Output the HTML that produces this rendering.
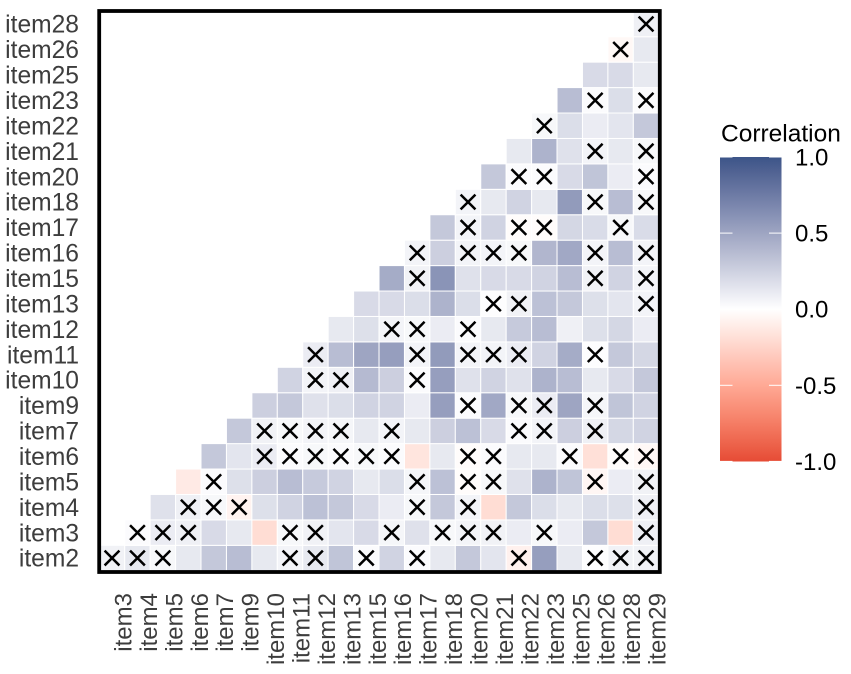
<!DOCTYPE html>
<html lang="en">
<head>
<meta charset="utf-8">
<title>Correlation heatmap</title>
<style>
  html, body { margin: 0; padding: 0; background: #fff; }
  svg { display: block; font-family: "Liberation Sans", Arial, sans-serif; }
</style>
</head>
<body>
<svg id="chart" width="851" height="674" viewBox="0 0 851 674" xmlns="http://www.w3.org/2000/svg">
  <defs>
    <linearGradient id="legend-gradient" x1="0" y1="0" x2="0" y2="1"></linearGradient>
  </defs>
  <rect x="0" y="0" width="851" height="674" fill="#ffffff"></rect>
  <g id="tiles"></g>
  <g id="crosses"></g>
  <rect x="99.2" y="11" width="560.6" height="561" fill="none" stroke="#000000" stroke-width="3.8"></rect>
  <g id="y-labels"></g>
  <g id="x-labels"></g>
  <g id="legend">
    <text x="721" y="141.5" font-size="24.5" fill="#000">Correlation</text>
    <rect x="720" y="157" width="61.5" height="304.5" fill="url(#legend-gradient)"></rect>
  </g>
</svg>
<script>
const xItems = ["item3","item4","item5","item6","item7","item9","item10","item11","item12","item13","item15","item16","item17","item18","item20","item21","item22","item23","item25","item26","item28","item29"];
const yItems = ["item2","item3","item4","item5","item6","item7","item9","item10","item11","item12","item13","item15","item16","item17","item18","item20","item21","item22","item23","item25","item26","item28"];
const corrItem2 = [.07,.12,.04,.12,.3,.36,.12,.06,.12,.32,.02,.24,.02,.12,.3,.14,-.08,.54,.12,.01,.07,.07];
const corrItem3 = [.02,.1,.08,.2,.12,-.2,.04,.07,.14,.2,.05,.16,.04,.06,.07,.1,.04,.1,.3,-.2,.08];
const corrItem4 = [.16,.08,.04,-.07,.17,.24,.34,.3,.2,.1,.04,.3,.06,-.2,.3,.18,.12,.18,.17,.08];
const corrItem5 = [-.12,.02,.17,.26,.36,.29,.24,.12,.18,.05,.34,-.02,.04,.16,.42,.32,-.05,.1,.07];
const corrItem6 = [.3,.14,.1,.02,.04,.02,.04,.02,-.15,.12,-.02,.02,.12,.12,.02,-.18,-.02,-.04];
const corrItem7 = [.3,.07,.04,.06,.05,.12,.06,.12,.26,.34,.2,.02,.06,.26,.08,.22,.24];
const corrItem9 = [.26,.3,.16,.18,.24,.24,.1,.54,.02,.48,.04,.1,.5,.05,.32,.24];
const corrItem10 = [.24,.06,.08,.38,.26,.02,.54,.16,.24,.16,.42,.36,.12,.2,.3];
const corrItem11 = [.1,.36,.5,.54,.06,.56,.06,.06,.1,.24,.46,.01,.3,.22];
const corrItem12 = [.12,.17,.06,.04,.1,.02,.12,.29,.36,.08,.17,.22,.1];
const corrItem13 = [.2,.2,.18,.42,.18,.01,.07,.34,.3,.17,.14,.06];
const corrItem15 = [.46,.07,.6,.16,.2,.2,.24,.36,.07,.24,.06];
const corrItem16 = [.06,.26,.06,.06,.04,.4,.48,.06,.36,.06];
const corrItem17 = [.3,.06,.24,-.02,-.02,.22,.19,.04,.19];
const corrItem18 = [.06,.12,.24,.12,.56,.04,.36,.04];
const corrItem20 = [.3,.02,.02,.2,.32,.1,.02];
const corrItem21 = [.12,.42,.16,.06,.12,.04];
const corrItem22 = [.04,.18,.1,.14,.3];
const corrItem23 = [.36,.02,.18,.02];
const corrItem25 = [.2,.2,.12];
const corrItem26 = [-.04,.12];
const corrItem28 = [.08];
const correlationRows = [corrItem2,corrItem3,corrItem4,corrItem5,corrItem6,corrItem7,corrItem9,corrItem10,corrItem11,corrItem12,corrItem13,corrItem15,corrItem16,corrItem17,corrItem18,corrItem20,corrItem21,corrItem22,corrItem23,corrItem25,corrItem26,corrItem28];
const crossedRows = [
  ["item3","item4","item5","item11","item12","item15","item17","item22","item26","item28","item29"],
  ["item4","item5","item6","item11","item12","item16","item18","item20","item21","item23","item29"],
  ["item6","item7","item9","item17","item20","item29"],
  ["item7","item17","item20","item21","item26","item29"],
  ["item10","item11","item12","item13","item15","item16","item20","item21","item25","item28","item29"],
  ["item10","item11","item12","item13","item16","item22","item23","item26"],
  ["item20","item22","item23","item26"],
  ["item12","item13","item17"],
  ["item12","item17","item20","item21","item22","item26"],
  ["item16","item17","item20"],
  ["item21","item22","item29"],
  ["item17","item26","item29"],
  ["item17","item20","item21","item22","item26","item29"],
  ["item20","item22","item23","item28"],
  ["item20","item26","item29"],
  ["item22","item23","item29"],
  ["item26","item29"],
  ["item23"],
  ["item26","item29"],
  [],
  ["item28"],
  ["item29"]
];
const legendTicks = [1, 0.5, 0, -0.5, -1];
const legendTickLabels = ["1.0", "0.5", "0.0", "-0.5", "-1.0"];

const NS = "http://www.w3.org/2000/svg";
const panelLeft = 99.3, panelTop = 11.3, step = 25.43;
const HIGH = [60, 84, 136], MID = [255, 255, 255], LOW = [230, 75, 53];

function xScale(i) { return panelLeft + step * (i + 0.5); }
function yScale(i) { return panelTop + step * (yItems.length - 1 - i + 0.5); }
function legendY(v) { return 309.2 - v * 152.2; }

function rgbToLab(rgb) {
  const l = rgb.map(function (c) { c /= 255; return c <= 0.04045 ? c / 12.92 : Math.pow((c + 0.055) / 1.055, 2.4); });
  const x = (0.4124 * l[0] + 0.3576 * l[1] + 0.1805 * l[2]) / 0.95047;
  const y = 0.2126 * l[0] + 0.7152 * l[1] + 0.0722 * l[2];
  const z = (0.0193 * l[0] + 0.1192 * l[1] + 0.9505 * l[2]) / 1.08883;
  const f = function (t) { return t > 0.008856 ? Math.cbrt(t) : 7.787 * t + 16 / 116; };
  return [116 * f(y) - 16, 500 * (f(x) - f(y)), 200 * (f(y) - f(z))];
}
function labToRgb(lab) {
  const fy = (lab[0] + 16) / 116, fx = fy + lab[1] / 500, fz = fy - lab[2] / 200;
  const g = function (t) { return t * t * t > 0.008856 ? t * t * t : (t - 16 / 116) / 7.787; };
  const x = g(fx) * 0.95047, y = g(fy), z = g(fz) * 1.08883;
  const l = [3.2406 * x - 1.5372 * y - 0.4986 * z, -0.9689 * x + 1.8758 * y + 0.0415 * z, 0.0557 * x - 0.204 * y + 1.057 * z];
  return l.map(function (c) {
    c = Math.max(0, Math.min(1, c));
    return Math.round(255 * (c <= 0.0031308 ? 12.92 * c : 1.055 * Math.pow(c, 1 / 2.4) - 0.055));
  });
}
const labMid = rgbToLab(MID), labHigh = rgbToLab(HIGH), labLow = rgbToLab(LOW);
function fillFor(v) {
  const end = v >= 0 ? labHigh : labLow;
  const t = Math.min(1, Math.abs(v));
  const c = labToRgb(labMid.map(function (m, k) { return m + (end[k] - m) * t; }));
  return "rgb(" + c.join(",") + ")";
}
function svgEl(tag, attrs) {
  const el = document.createElementNS(NS, tag);
  Object.keys(attrs).forEach(function (k) { el.setAttribute(k, attrs[k]); });
  return el;
}

const tilesGroup = document.getElementById("tiles");
const crossGroup = document.getElementById("crosses");
correlationRows.forEach(function (row, r) {
  const offset = xItems.length - row.length;
  row.forEach(function (value, c) {
    const col = offset + c;
    const cx = xScale(col), cy = yScale(r);
    const tile = svgEl("rect", {
      x: cx - step / 2, y: cy - step / 2, width: step, height: step,
      fill: fillFor(value), stroke: "#ffffff", "stroke-width": 1
    });
    
    
    tilesGroup.appendChild(tile);
    if (crossedRows[r].indexOf(xItems[col]) >= 0) {
      const h = 7.4;
      const cross = svgEl("path", {
        d: "M" + (cx - h) + " " + (cy - h) + "L" + (cx + h) + " " + (cy + h) + "M" + (cx - h) + " " + (cy + h) + "L" + (cx + h) + " " + (cy - h),
        stroke: "#000000", "stroke-width": 2.5, fill: "none"
      });
      
      
      crossGroup.appendChild(cross);
    }
  });
});

const yLabelGroup = document.getElementById("y-labels");
yItems.forEach(function (name, i) {
  const t = svgEl("text", { x: 79, y: yScale(i) + 8.7, "text-anchor": "end", "font-size": 24.6, fill: "#3d3d3d" });
  
  
  t.textContent = name;
  yLabelGroup.appendChild(t);
});

const xLabelGroup = document.getElementById("x-labels");
xItems.forEach(function (name, i) {
  const bx = xScale(i) + 19.5, by = 593;
  const t = svgEl("text", { x: bx, y: by, "text-anchor": "end", "font-size": 24, fill: "#3d3d3d", transform: "rotate(-90 " + bx + " " + by + ")" });
  
  
  t.textContent = name;
  xLabelGroup.appendChild(t);
});

const gradient = document.getElementById("legend-gradient");
for (let k = 0; k <= 20; k++) {
  const v = 1 - k / 10;
  const stop = svgEl("stop", { offset: (k * 5) + "%", "stop-color": fillFor(v) });
  gradient.appendChild(stop);
}

const legendGroup = document.getElementById("legend");
legendTicks.forEach(function (v, i) {
  const y = legendY(v);
  const t = svgEl("text", { x: 795, y: y + 8.5, "font-size": 24, fill: "#000" });
  
  
  t.textContent = legendTickLabels[i];
  legendGroup.appendChild(t);
  [[720, 732.5], [769, 781.5]].forEach(function (seg) {
    const l = svgEl("line", { x1: seg[0], x2: seg[1], y1: y, y2: y, stroke: "#ffffff", "stroke-width": 1 });
    
    
    legendGroup.appendChild(l);
  });
});
</script>
</body>
</html>
